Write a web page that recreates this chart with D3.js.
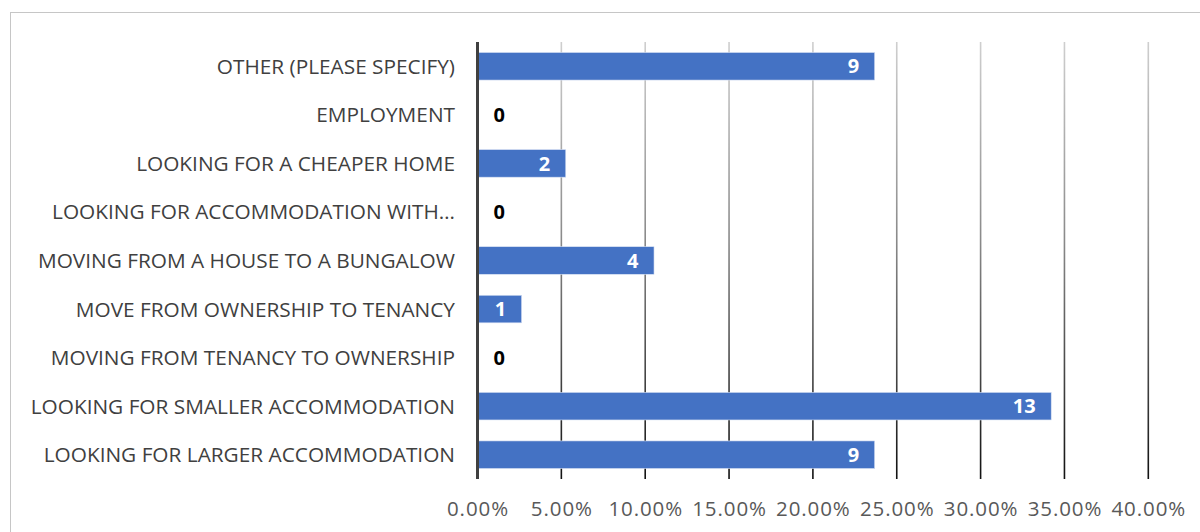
<!DOCTYPE html>
<html><head><meta charset="utf-8">
<script src="https://cdn.jsdelivr.net/npm/d3@7"></script>
<style>body{margin:0;background:#fff}svg{display:block}text{font-family:"Open Sans",sans-serif}</style>
</head><body>
<svg id="c" width="1200" height="532"></svg>
<script>
const categories = [
  "OTHER (PLEASE SPECIFY)",
  "EMPLOYMENT",
  "LOOKING FOR A CHEAPER HOME",
  "LOOKING FOR ACCOMMODATION WITH…",
  "MOVING FROM A HOUSE TO A BUNGALOW",
  "MOVE FROM OWNERSHIP TO TENANCY",
  "MOVING FROM TENANCY TO OWNERSHIP",
  "LOOKING FOR SMALLER ACCOMMODATION",
  "LOOKING FOR LARGER ACCOMMODATION"
];
const counts = [9, 0, 2, 0, 4, 1, 0, 13, 9];
const tickValues = [0, 0.05, 0.10, 0.15, 0.20, 0.25, 0.30, 0.35, 0.40];

(function(){
const total = d3.sum(counts);
const svg = d3.select("#c");
const pl = 477.5, pr = 1148.3, pt = 42, pb = 479;

svg.append("rect").attr("x",10.5).attr("y",12.5).attr("width",1200).attr("height",600)
  .attr("fill","none").attr("stroke","#c6c6c6").attr("stroke-width",1);

const defs = svg.append("defs");
const grad = defs.append("linearGradient").attr("id","gg")
  .attr("gradientUnits","userSpaceOnUse").attr("x1",0).attr("y1",pt).attr("x2",0).attr("y2",pb);
grad.append("stop").attr("offset","0").attr("stop-color","#cfcfcf");
grad.append("stop").attr("offset","0.45").attr("stop-color","#8a8a8a");
grad.append("stop").attr("offset","1").attr("stop-color","#111");

const x = d3.scaleLinear().domain([0, 0.40]).range([pl, pr]);
const y = d3.scaleBand().domain(categories).range([pt, pb]).paddingInner(0.432).paddingOuter(0.216);

svg.append("g").selectAll("rect").data(tickValues.slice(1)).join("rect")
  .attr("x", d => x(d) - 0.8).attr("width", 1.6)
  .attr("y", pt).attr("height", pb - pt)
  .attr("fill", "url(#gg)");

svg.append("g").selectAll("rect").data(categories).join("rect")
  .attr("x", pl).attr("y", d => y(d))
  .attr("width", (d,i) => x(counts[i]/total) - pl)
  .attr("height", y.bandwidth())
  .attr("fill", "#4472c4").attr("stroke","#d9e2f3").attr("stroke-width",0.6)
  .style("display",(d,i)=>counts[i]===0?"none":null);

svg.append("line").attr("x1",pl).attr("x2",pl).attr("y1",pt).attr("y2",pb)
  .attr("stroke","#404040").attr("stroke-width",3);

const yAxis = d3.axisLeft(y).tickSize(0).tickPadding(0);
const ga = svg.append("g").attr("transform","translate(455,0)").call(yAxis);
ga.select(".domain").remove();
ga.selectAll("text").attr("font-family","Open Sans").attr("font-size",20.8).attr("fill","#404040")
  .attr("dy","0.36em");

const xAxis = d3.axisBottom(x).tickValues(tickValues).tickSize(0).tickPadding(0).tickFormat(d3.format(".2%"));
const gx = svg.append("g").attr("transform","translate(0,509)").call(xAxis);
gx.select(".domain").remove();
gx.selectAll("text").attr("font-family","Open Sans").attr("font-size",20.5).attr("fill","#595959")
  .attr("letter-spacing","0.9px").attr("dy","0.36em");

svg.append("g").selectAll("text").data(categories).join("text")
  .attr("x", (d,i) => counts[i] === 0 ? pl + 16 : x(counts[i]/total) - 15.5)
  .attr("y", d => y(d) + y.bandwidth()/2)
  .attr("dy","0.36em")
  .attr("text-anchor",(d,i)=>counts[i]===0?"start":"end")
  .attr("font-size",20).attr("font-weight","bold")
  .attr("fill",(d,i)=>counts[i]===0?"#000":"#fff")
  .text((d,i)=>counts[i]);
})();
</script>
</body></html>
